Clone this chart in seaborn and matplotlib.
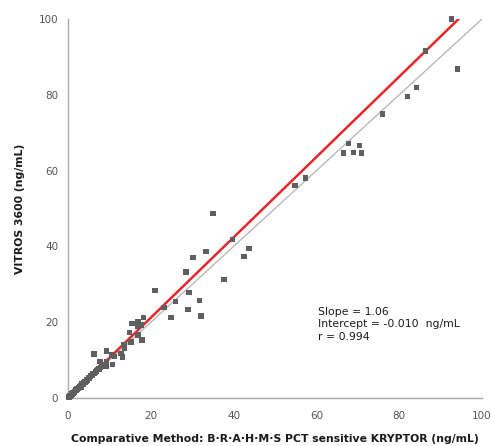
import numpy as np
import pandas as pd
import matplotlib
matplotlib.use('Agg')
import matplotlib.pyplot as plt
import seaborn as sns

# comparative method (x) vs VITROS 3600 (y), ng/mL
kryptor = [92.6, 86.3, 94.1, 84.2, 82.0, 76.0, 67.8, 70.4, 66.6, 69.0, 70.9, 57.4, 54.8,
           35.0, 39.8, 43.7, 42.5, 33.3, 30.2, 28.5, 37.7, 21.0, 29.2, 25.9, 31.7, 23.2,
           29.0, 24.9, 32.1, 18.2, 17.7, 15.5, 16.9, 16.9, 14.8, 16.9, 17.9, 15.2, 13.5,
           13.7, 12.8, 13.2, 6.3, 9.3, 10.5, 11.3, 7.7, 9.3, 9.2, 10.7, 8.5,
           0.1, 0.2, 0.3, 0.4, 0.5, 0.6, 0.7, 0.8, 0.9, 1.0, 1.1, 1.2, 1.3, 1.5, 1.6,
           1.8, 1.9, 2.1, 2.2, 2.4, 2.5, 2.7, 2.9, 3.0, 3.2, 3.4, 3.6, 3.8, 4.0, 4.2,
           4.5, 4.7, 5.0, 5.2, 5.5, 5.8, 6.0, 6.3, 6.6, 6.9, 7.2, 7.5, 7.8, 8.2, 3.1,
           2.0, 4.4, 5.6]
vitros = [100.0, 91.6, 86.8, 82.0, 79.6, 74.9, 67.2, 66.7, 64.6, 64.8, 64.6, 58.0, 56.1,
          48.7, 41.9, 39.5, 37.4, 38.7, 37.1, 33.2, 31.3, 28.4, 27.9, 25.5, 25.8, 23.9,
          23.4, 21.3, 21.6, 21.3, 19.3, 19.7, 20.1, 19.0, 17.3, 16.6, 15.3, 14.8, 14.2,
          13.1, 11.8, 10.8, 11.6, 12.4, 11.3, 10.9, 9.6, 9.6, 8.3, 8.9, 8.3,
          0.1, 0.3, 0.2, 0.5, 0.4, 0.7, 0.6, 0.9, 0.8, 1.1, 1.0, 1.3, 1.2, 1.6, 1.5,
          1.9, 2.1, 2.0, 2.4, 2.5, 2.8, 2.7, 3.0, 3.3, 3.2, 3.7, 3.6, 4.0, 4.3, 4.2,
          4.8, 4.7, 5.3, 5.2, 5.8, 5.9, 6.4, 6.5, 6.9, 7.1, 7.6, 7.7, 8.1, 8.5, 2.9,
          2.3, 4.4, 6.0]

slope = 1.06
intercept = -0.010
r_value = 0.994

df = pd.DataFrame({'kryptor': kryptor, 'vitros': vitros})

sns.set_style('white')
plt.rcParams['font.family'] = ['DejaVu Sans']

fig = plt.figure(figsize=(4.91, 4.46), dpi=100)
ax = fig.add_axes([0.1385, 0.1076, 0.8432, 0.8498])

# identity line and regression line
ident = np.array([0, 100])
ax.plot(ident, ident, color='#b8b8b8', lw=1.0, zorder=1)
x_end = (100 - intercept) / slope
reg_x = np.array([0, x_end])
ax.plot(reg_x, slope * reg_x + intercept, color='#e8262a', lw=1.8, zorder=2)

sns.scatterplot(data=df, x='kryptor', y='vitros', marker='s', s=15, color='#5f5f5f',
                edgecolor='none', ax=ax, zorder=3, clip_on=False)

ax.set_xlim(0, 100)
ax.set_ylim(0, 100)
ax.set_xticks([0, 20, 40, 60, 80, 100])
ax.set_yticks([0, 20, 40, 60, 80, 100])

for side in ['top', 'right']:
    ax.spines[side].set_visible(False)
for side in ['left', 'bottom']:
    ax.spines[side].set_color('#a8a8a8')
    ax.spines[side].set_linewidth(1.0)

ax.tick_params(axis='both', which='both', length=3, width=0.8, color='#a8a8a8',
               labelsize=7.5, labelcolor='#555555', pad=4, direction='out')
ax.tick_params(axis='x', pad=6)

ax.set_xlabel('Comparative Method: B·R·A·H·M·S PCT sensitive KRYPTOR (ng/mL)',
              fontsize=7.8, fontweight='bold', color='#1a1a1a', labelpad=10)
ax.set_ylabel('VITROS 3600 (ng/mL)', fontsize=7.8, fontweight='bold', color='#1a1a1a',
              labelpad=10)

ax.text(60.5, 24, f'Slope = {slope:.2f}\nIntercept = {intercept:.3f}  ng/mL\nr = {r_value:.3f}',
        fontsize=7.8, color='#1a1a1a', va='top', ha='left', linespacing=1.3)

fig.savefig('out.png', dpi=100)
